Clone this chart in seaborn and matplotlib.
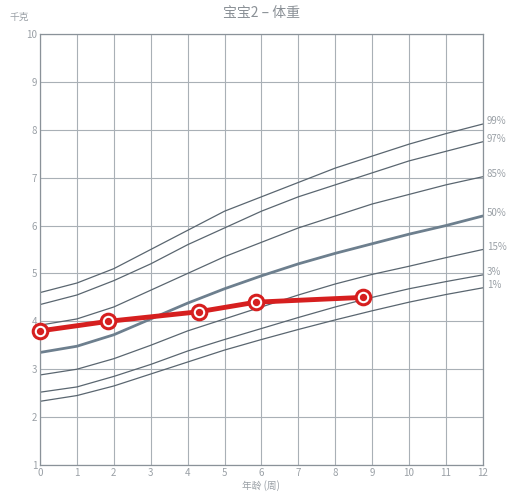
import seaborn as sns
import pandas as pd
import numpy as np
import matplotlib.pyplot as plt

sns.set_theme(style="white")
plt.rcParams['font.family'] = ['Noto Sans CJK SC', 'DejaVu Sans']

# Percentile curves, weeks 0..12
weeks = list(range(13))
p99 = [4.6, 4.8, 5.1, 5.5, 5.9, 6.3, 6.6, 6.9, 7.2, 7.45, 7.7, 7.92, 8.12]
p97 = [4.35, 4.55, 4.85, 5.2, 5.6, 5.95, 6.3, 6.6, 6.85, 7.1, 7.35, 7.55, 7.75]
p85 = [3.92, 4.05, 4.3, 4.65, 5.0, 5.35, 5.65, 5.95, 6.2, 6.45, 6.65, 6.85, 7.02]
p50 = [3.35, 3.48, 3.72, 4.05, 4.38, 4.68, 4.95, 5.2, 5.42, 5.62, 5.82, 6.0, 6.2]
p15 = [2.88, 3.0, 3.22, 3.5, 3.8, 4.05, 4.3, 4.55, 4.78, 4.98, 5.15, 5.33, 5.5]
p3 = [2.52, 2.63, 2.85, 3.1, 3.38, 3.62, 3.85, 4.08, 4.3, 4.5, 4.68, 4.83, 4.97]
p1 = [2.33, 2.45, 2.65, 2.9, 3.15, 3.4, 3.62, 3.83, 4.03, 4.22, 4.4, 4.56, 4.7]
curves = {'99%': p99, '97%': p97, '85%': p85, '50%': p50, '15%': p15, '3%': p3, '1%': p1}

# Baby measurements
baby_weeks = [0, 1.85, 4.3, 5.85, 8.75]
baby_kg = [3.8, 4.0, 4.2, 4.4, 4.5]

grey = '#8a9299'
fig = plt.figure(figsize=(5.3, 5.0), dpi=100)
ax = fig.add_axes([0.0755, 0.07, 0.8355, 0.862])

for name, vals in curves.items():
    lw = 2.0 if name == '50%' else 0.9
    col = '#6d7f8e' if name == '50%' else '#5a6670'
    sns.lineplot(x=weeks, y=vals, ax=ax, color=col, lw=lw)
    ax.annotate(name, (12, vals[-1]), xytext=(3, 2), textcoords='offset points',
                fontsize=7, color='#9aa0a6', ha='left', va='center', annotation_clip=False)

sns.lineplot(x=baby_weeks, y=baby_kg, ax=ax, color='#d61f1f', lw=3.5, zorder=5)
ax.scatter(baby_weeks, baby_kg, s=110, facecolor='white', edgecolor='#d61f1f', lw=2.2, zorder=6, clip_on=False)
ax.scatter(baby_weeks, baby_kg, s=18, color='#d61f1f', zorder=7, clip_on=False)

ax.set_xlim(0, 12)
ax.set_ylim(1, 10)
ax.set_xticks(range(13))
ax.set_yticks(range(1, 11))
ax.grid(True, color='#a9b0b6', lw=0.8)
for s in ax.spines.values():
    s.set_color(grey)
    s.set_linewidth(0.9)
ax.tick_params(labelsize=7, colors='#9aa0a6', length=0, pad=2)
ax.set_xlabel('年龄 (周)', fontsize=7, color='#9aa0a6', labelpad=2)
ax.set_title('宝宝2 – 体重', fontsize=10, color='#8a9096', pad=12)
ax.text(-0.3, 10.25, '千克', fontsize=7, color='#9aa0a6', ha='right', va='bottom')

fig.savefig('out.png', dpi=100)
